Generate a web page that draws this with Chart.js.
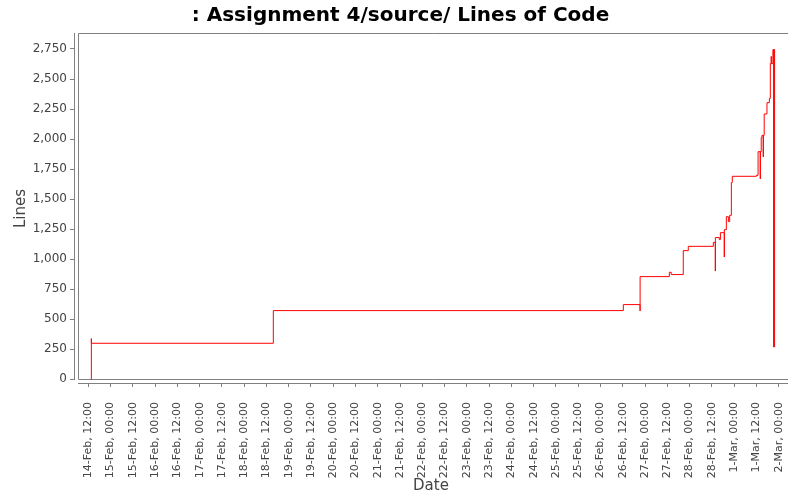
<!DOCTYPE html>
<html><head><meta charset="utf-8">
<script src="https://cdn.jsdelivr.net/npm/chart.js@4/dist/chart.umd.min.js"></script>
<style>html,body{margin:0;padding:0;background:#fff}#wrap{width:800px;height:500px}</style>
</head><body><div id="wrap"><canvas id="c" width="800" height="500"></canvas></div>
<script>
const chartTitle = ': Assignment 4/source/ Lines of Code';
const xAxisTitle = 'Date';
const yAxisTitle = 'Lines';

const commitTimes = [
  '14-Feb, 13:37','14-Feb, 13:38','14-Feb, 13:40','18-Feb, 15:42',
  '26-Feb, 12:18','26-Feb, 21:18','26-Feb, 21:20',
  '27-Feb, 13:06','27-Feb, 14:06','27-Feb, 20:36','27-Feb, 23:18',
  '28-Feb, 12:48','28-Feb, 13:52','28-Feb, 13:53','28-Feb, 16:00','28-Feb, 16:36',
  '28-Feb, 18:42','28-Feb, 18:43','28-Feb, 19:48','28-Feb, 20:54','28-Feb, 21:36',
  '28-Feb, 22:30','28-Feb, 23:00',
  '1-Mar, 12:00','1-Mar, 12:54','1-Mar, 14:06','1-Mar, 14:07','1-Mar, 14:36','1-Mar, 15:00',
  '1-Mar, 15:42','1-Mar, 15:43','1-Mar, 16:12','1-Mar, 17:42','1-Mar, 19:00','1-Mar, 19:30',
  '1-Mar, 20:00','1-Mar, 20:01','1-Mar, 20:54','1-Mar, 21:20','1-Mar, 21:22','1-Mar, 21:48'
];
const linesOfCode = [
  0, 339, 300, 572,
  622, 569, 855,
  891, 872, 1071, 1107,
  1140, 901, 1180, 1163, 1221,
  1018, 1246, 1354, 1313, 1365,
  1637, 1690,
  1698, 1895, 1668, 1895, 2012, 2031,
  1851, 2031, 2209, 2303, 2339, 2628,
  2689, 2628, 2745, 268, 2745, 268
];
const yTickValues = [0, 250, 500, 750, 1000, 1250, 1500, 1750, 2000, 2250, 2500, 2750];
const xTickLabels = [
  '14-Feb, 12:00','15-Feb, 00:00','15-Feb, 12:00','16-Feb, 00:00','16-Feb, 12:00',
  '17-Feb, 00:00','17-Feb, 12:00','18-Feb, 00:00','18-Feb, 12:00','19-Feb, 00:00',
  '19-Feb, 12:00','20-Feb, 00:00','20-Feb, 12:00','21-Feb, 00:00','21-Feb, 12:00',
  '22-Feb, 00:00','22-Feb, 12:00','23-Feb, 00:00','23-Feb, 12:00','24-Feb, 00:00',
  '24-Feb, 12:00','25-Feb, 00:00','25-Feb, 12:00','26-Feb, 00:00','26-Feb, 12:00',
  '27-Feb, 00:00','27-Feb, 12:00','28-Feb, 00:00','28-Feb, 12:00','1-Mar, 00:00',
  '1-Mar, 12:00','2-Mar, 00:00'
];

// hours since 14-Feb 00:00 (February has 28 days)
function toHours(s) {
  const m = s.match(/(\d+)-(\w+), (\d+):(\d+)/);
  let day = +m[1];
  if (m[2] === 'Mar') day += 28;
  return (day - 14) * 24 + (+m[3]) + (+m[4]) / 60;
}
const xTickHours = xTickLabels.map(toHours);
const points = commitTimes.map((t, i) => ({ x: toHours(t), y: linesOfCode[i] }));

const AXIS_GRAY = '#808080';
const TEXT_GRAY = '#444444';

const framePlugin = {
  id: 'frame',
  beforeDatasetsDraw(chart) {
    const ctx = chart.ctx, a = chart.chartArea;
    const L = a.left + 4.5, B = a.bottom - 4.5, T = a.top + 0.5, R = a.right;
    ctx.save();
    ctx.strokeStyle = AXIS_GRAY;
    ctx.lineWidth = 1;
    ctx.beginPath();
    ctx.moveTo(R, T); ctx.lineTo(L, T); ctx.lineTo(L, B); ctx.lineTo(R, B);
    ctx.moveTo(a.left + 0.5, a.top); ctx.lineTo(a.left + 0.5, B + 0.5);
    ctx.moveTo(L - 0.5, a.bottom - 0.5); ctx.lineTo(R, a.bottom - 0.5);
    ctx.stroke();
    ctx.restore();
  },
  afterDraw(chart) {
    const ctx = chart.ctx;
    ctx.save();
    ctx.fillStyle = '#000';
    ctx.font = 'bold 20px "DejaVu Sans"';
    ctx.textAlign = 'center';
    ctx.textBaseline = 'alphabetic';
    ctx.fillText(chartTitle, 400.5, 21);
    ctx.restore();
  }
};

new Chart(document.getElementById('c'), {
  type: 'line',
  data: {
    datasets: [{
      data: points,
      borderColor: '#ff0000',
      borderWidth: 1,
      stepped: 'before',
      pointRadius: 0,
      fill: false,
      tension: 0
    }]
  },
  options: {
    responsive: false,
    animation: false,
    devicePixelRatio: 1,
    parsing: false,
    layout: { padding: { top: 33, right: 12, left: 0, bottom: 0 } },
    plugins: { legend: { display: false }, title: { display: false }, tooltip: { enabled: false } },
    scales: {
      x: {
        type: 'linear',
        min: 4.294,
        max: 389.03,
        afterBuildTicks: s => { s.ticks = xTickHours.map(v => ({ value: v })); },
        afterFit: s => { s.height = 116; s.paddingLeft = 0; s.paddingRight = 0; },
        grid: { drawOnChartArea: false, drawTicks: true, tickLength: 3, color: AXIS_GRAY },
        border: { display: false },
        ticks: {
          autoSkip: false, maxRotation: 90, minRotation: 90, padding: 15,
          font: { family: 'DejaVu Sans', size: 11 }, color: TEXT_GRAY,
          callback: (v, i) => xTickLabels[i]
        },
        title: {
          display: true, text: xAxisTitle, color: TEXT_GRAY,
          font: { family: 'DejaVu Sans', size: 15 },
          padding: { top: 0, bottom: 5 }
        }
      },
      y: {
        type: 'linear',
        min: -39,
        max: 2883,
        afterBuildTicks: s => { s.ticks = yTickValues.map(v => ({ value: v })); },
        afterFit: s => { s.width = 74; s.paddingTop = 0; s.paddingBottom = 0; },
        grid: { drawOnChartArea: false, drawTicks: true, tickLength: 4, color: AXIS_GRAY },
        border: { display: false },
        ticks: {
          padding: 3,
          font: { family: 'DejaVu Sans', size: 12 }, color: TEXT_GRAY,
          callback: v => v.toLocaleString('en-US')
        },
        title: {
          display: true, text: yAxisTitle, color: TEXT_GRAY,
          font: { family: 'DejaVu Sans', size: 15 },
          padding: { top: 12, bottom: 0 }
        }
      }
    }
  },
  plugins: [framePlugin]
});
</script>
</body></html>
